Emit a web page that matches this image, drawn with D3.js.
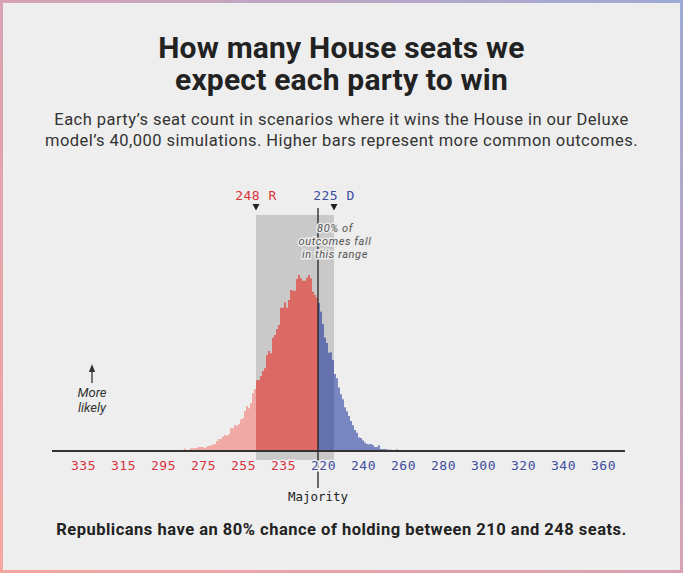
<!DOCTYPE html>
<html>
<head>
<meta charset="utf-8">
<script src="https://cdn.jsdelivr.net/npm/d3@7/dist/d3.min.js"></script>
<style>
  html, body { margin: 0; padding: 0; background: #eeeeee; }
  svg { display: block; }
</style>
</head>
<body>
<svg id="chart" width="683" height="573"></svg>
<script>
// ---- DATA (Democratic seat count on the x axis; Republican seats = 435 - D) ----
// Red: scenarios where Republicans win (D seats <= 217); relative frequency
const redSeats = [140,141,142,143,144,145,146,147,148,149,150,151,152,153,154,155,156,157,158,159,
  160,161,162,163,164,165,166,167,168,169,170,171,172,173,174,175,176,177,178,179,
  180,181,182,183,184,185,186,187,188,189,190,191,192,193,194,195,196,197,198,199,
  200,201,202,203,204,205,206,207,208,209,210,211,212,213,214,215,216,217];
const redValues = [0.5,0.5,0.6,0.5,0.8,0.6,1,0.7,1,1,1.2,2.3,1,1,2.7,2.7,2.7,3,4,4,
  4,3,4.3,5,5.7,6.3,7,10,12,12,14.3,16,15.3,16.7,22.7,22.7,26,25.3,26.7,31.7,
  32.7,40,45,42.7,47.7,57.7,62,70.7,71,75,80,82.7,96,100,97.7,113.3,116,121.7,126,143.3,
  143.3,148.7,143.3,151,161,160.3,160.3,172,176,172.7,170.3,170.3,173.3,176,172.7,159.3,156,153.3];
// Blue: scenarios where Democrats win (D seats >= 218)
const blueSeats = [218,219,220,221,222,223,224,225,226,227,228,229,230,231,232,233,234,235,236,237,
  238,239,240,241,242,243,244,245,246,247,248,249,250,251,252,253,254,255,256,257,
  258,259,260,261,262,263,264,265,266,267,268];
const blueValues = [148,139.3,126.8,113.3,108,98.3,98.7,91,77,72.7,63.5,56.7,51.7,43.7,39.7,35,30,25.8,21,18.3,
  13.5,13,10.7,8.5,7,6.7,7,6,4,4,5.7,2,2,2,1.7,1.3,1.3,1,1,1.7,
  1,0.7,0.7,0.7,0.6,0.5,0.5,0.5,0.4,0.4,0.3];
// 80% range: 248 R (= 187 D) to 225 D
const rangeLow = 187, rangeHigh = 225;
const majoritySeat = 217.5;
const tickValues = [100,120,140,160,180,200,220,240,260,280,300,320,340,360];
const tickLabels = ["335","315","295","275","255","235","220","240","260","280","300","320","340","360"];

const titleLines = ["How many House seats we", "expect each party to win"];
const subtitleLines = ["Each party\u2019s seat count in scenarios where it wins the House in our Deluxe",
  "model\u2019s 40,000 simulations. Higher bars represent more common outcomes."];
const footerText = "Republicans have an 80% chance of holding between 210 and 248 seats.";
const annoLines = ["80% of", "outcomes fall", "in this range"];

// ---- DRAWING ----
const W = 683, H = 573;
const svg = d3.select("#chart");
const SANS = "Roboto, 'Noto Sans', sans-serif";
const MONO = "'DejaVu Sans Mono', 'Liberation Mono', monospace";
const RED = "#d8333a", BLUE = "#3d4d9e";

// background + gradient border
const defs = svg.append("defs");
const grad = defs.append("linearGradient").attr("id", "border")
  .attr("x1", 0).attr("y1", 1).attr("x2", 1).attr("y2", 0);
grad.append("stop").attr("offset", "0%").attr("stop-color", "#f4a6a2");
grad.append("stop").attr("offset", "45%").attr("stop-color", "#dca2b0");
grad.append("stop").attr("offset", "100%").attr("stop-color", "#9eaad6");
svg.append("rect").attr("x", 1.5).attr("y", 1.5).attr("width", W - 3).attr("height", H - 3)
  .attr("fill", "#eeeeee").attr("stroke", "url(#border)").attr("stroke-width", 3);

// titles
svg.append("g").selectAll("text").data(titleLines).join("text")
  .attr("x", W / 2).attr("y", (d, i) => 58 + i * 32)
  .attr("text-anchor", "middle").attr("font-family", SANS).attr("font-weight", 700)
  .attr("font-size", 30).attr("letter-spacing", 0.2).attr("fill", "#222").text(d => d);
svg.append("g").selectAll("text").data(subtitleLines).join("text")
  .attr("x", W / 2).attr("y", (d, i) => 125 + i * 21)
  .attr("text-anchor", "middle").attr("font-family", SANS)
  .attr("font-size", 16.5).attr("letter-spacing", 0.45).attr("fill", "#333").text(d => d);
svg.append("text").attr("x", W / 2).attr("y", 535).attr("text-anchor", "middle")
  .attr("font-family", SANS).attr("font-weight", 700).attr("font-size", 16.5)
  .attr("letter-spacing", 0.5).attr("fill", "#222").text(footerText);

// scales
const x = d3.scaleLinear().domain([100, 360]).range([83, 603]);
const y = d3.scaleLinear().domain([0, 176]).range([451, 275]);
const baseY = y(0);

// 80% shaded range
svg.append("rect")
  .attr("x", x(rangeLow - 0.5)).attr("width", x(rangeHigh + 0.5) - x(rangeLow - 0.5))
  .attr("y", 215).attr("height", baseY + 9 - 215)
  .attr("fill", "#c9c9c9");

// bars
const barW = 1.35;
const redData = redSeats.map((s, i) => ({ s, v: redValues[i] }));
const blueData = blueSeats.map((s, i) => ({ s, v: blueValues[i] }));
const inRange = s => s >= rangeLow && s <= rangeHigh;
svg.append("g").selectAll("rect").data(redData).join("rect")
  .attr("x", d => x(d.s) - barW / 2).attr("width", barW)
  .attr("y", d => y(d.v)).attr("height", d => baseY - y(d.v))
  .attr("fill", d => inRange(d.s) ? "#e63c35" : "#f08880");
svg.append("g").selectAll("rect").data(blueData).join("rect")
  .attr("x", d => x(d.s) - barW / 2).attr("width", barW)
  .attr("y", d => y(d.v)).attr("height", d => baseY - y(d.v))
  .attr("fill", d => inRange(d.s) ? "#34479f" : "#4354aa");

// majority line
svg.append("line").attr("x1", x(majoritySeat)).attr("x2", x(majoritySeat))
  .attr("y1", 208).attr("y2", 488).attr("stroke", "#222").attr("stroke-width", 1.3);

// axis baseline
svg.append("line").attr("x1", x(84.5)).attr("x2", x(371))
  .attr("y1", baseY).attr("y2", baseY).attr("stroke", "#333").attr("stroke-width", 2);

// tick labels
const axis = d3.axisBottom(x).tickValues(tickValues).tickSize(0).tickPadding(10)
  .tickFormat((d, i) => tickLabels[i]);
const gAxis = svg.append("g").attr("transform", `translate(0,${baseY})`).call(axis);
gAxis.select(".domain").remove();
gAxis.selectAll("text")
  .attr("font-family", MONO).attr("font-size", 13).attr("letter-spacing", 0.5)
  .attr("fill", d => d <= 200 ? RED : BLUE)
  .attr("stroke", "#eeeeee").attr("stroke-width", 3).attr("paint-order", "stroke");

// majority label
svg.append("text").attr("x", x(majoritySeat)).attr("y", 501).attr("text-anchor", "middle")
  .attr("font-family", MONO).attr("font-size", 12.5).attr("fill", "#222").text("Majority");

// range end markers
const markers = [
  { s: rangeLow - 0.5, label: "248 R", color: RED },
  { s: rangeHigh + 0.5, label: "225 D", color: BLUE }
];
const gm = svg.append("g").selectAll("g").data(markers).join("g")
  .attr("transform", d => `translate(${x(d.s)},0)`);
gm.append("path").attr("d", "M-3.5,204 L3.5,204 L0,210.5 Z").attr("fill", "#222");
gm.append("text").attr("y", 200).attr("text-anchor", "middle")
  .attr("font-family", MONO).attr("font-size", 13).attr("letter-spacing", 0.5)
  .attr("fill", d => d.color).text(d => d.label);

// annotation
svg.append("g").selectAll("text").data(annoLines).join("text")
  .attr("x", x(rangeHigh + 0.5) + 1).attr("y", (d, i) => 232 + i * 12.8)
  .attr("text-anchor", "middle").attr("font-family", SANS).attr("font-style", "italic")
  .attr("font-size", 11).attr("letter-spacing", 0.6).attr("fill", "#555")
  .attr("stroke", "#ebebeb").attr("stroke-width", 3).attr("paint-order", "stroke")
  .text(d => d);

// "More likely" note
defs.append("marker").attr("id", "arrow").attr("viewBox", "0 0 10 10")
  .attr("refX", 5).attr("refY", 5).attr("markerWidth", 6).attr("markerHeight", 6)
  .attr("orient", "auto").append("path").attr("d", "M0,1 L10,5 L0,9 Z").attr("fill", "#333");
svg.append("line").attr("x1", 92).attr("x2", 92).attr("y1", 383).attr("y2", 368)
  .attr("stroke", "#333").attr("stroke-width", 1.3).attr("marker-end", "url(#arrow)");
svg.append("g").selectAll("text").data(["More", "likely"]).join("text")
  .attr("x", 92).attr("y", (d, i) => 397 + i * 15)
  .attr("text-anchor", "middle").attr("font-family", SANS).attr("font-style", "italic")
  .attr("font-size", 13).attr("fill", "#333").text(d => d);
</script>
</body>
</html>
